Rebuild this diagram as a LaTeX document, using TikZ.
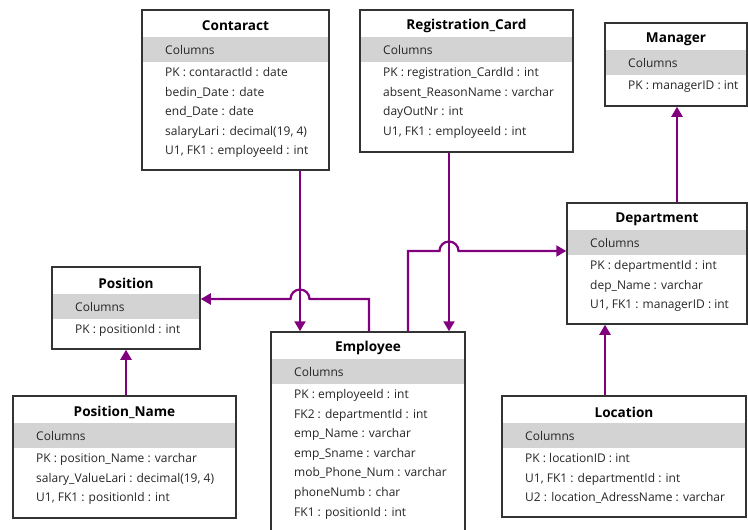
\documentclass[tikz,border=0pt]{standalone}
\usepackage{fontspec}
\setmainfont{Open Sans}
\usetikzlibrary{arrows.meta,fit}
\definecolor{fkc}{HTML}{800080}
\definecolor{bandc}{HTML}{D3D3D3}
\definecolor{txtc}{HTML}{262626}
\tikzset{
  tbl/.style={draw=black!80, line width=1.5pt, inner sep=0pt},
  ttl/.style={font=\fontsize{13.6}{15}\selectfont\bfseries, text=black, inner sep=0pt},
  colh/.style={font=\fontsize{12}{14}\selectfont, text=txtc, anchor=base west, inner sep=0pt},
  rowt/.style={font=\fontsize{12}{14}\selectfont, text=txtc, anchor=base west, inner sep=0pt},
  fk/.style={draw=fkc, line width=2.2pt, -{Triangle[length=10pt,width=11pt]}},
}
% #1 name, #2 left, #3 top, #4 right, #5 bottom, #6 title, #7 rows
\newcommand\dbtable[7]{%
  \fill[white] (#2,#3) rectangle (#4,#5);
  \fill[bandc] (#2,#3+27) rectangle (#4,#3+52);
  \node[tbl, fit={(#2,#3) (#4,#5)}] (#1) {};
  \node[ttl] (#1-title) at ({(#2+#4)/2},#3+16) {#6};
  \node[colh] (#1-cols) at (#2+23,#3+44) {Columns};
  \foreach \r [count=\i from 0] in {#7} {
    \node[rowt] at (#2+23,#3+66.5+19.6*\i) {\r};
  }
}
\begin{document}
\begin{tikzpicture}[x=1pt,y=-1pt]
\useasboundingbox (0,0) rectangle (748,530);
\dbtable{contaract}{142}{10}{329}{170}{Contaract}{{PK : contaractId : date},{bedin\_Date : date},{end\_Date : date},{salaryLari : decimal(19, 4)},{U1, FK1 : employeeId : int}}
\dbtable{regcard}{360}{10}{573}{152}{Registration\_Card}{{PK : registration\_CardId : int},{absent\_ReasonName : varchar},{dayOutNr : int},{U1, FK1 : employeeId : int}}
\dbtable{manager}{605}{23}{747}{106}{Manager}{{PK : managerID : int}}
\dbtable{department}{567}{203}{747}{324}{Department}{{PK : departmentId : int},{dep\_Name : varchar},{U1, FK1 : managerID : int}}
\dbtable{position}{52}{267}{200}{349}{Position}{{PK : positionId : int}}
\dbtable{employee}{271}{332}{465}{545}{Employee}{{PK : employeeId : int},{FK2 : departmentId : int},{emp\_Name : varchar},{emp\_Sname : varchar},{mob\_Phone\_Num : varchar},{phoneNumb : char},{FK1 : positionId : int}}
\dbtable{posname}{13}{396}{236}{518}{Position\_Name}{{PK : position\_Name : varchar},{salary\_ValueLari : decimal(19, 4)},{U1, FK1 : positionId : int}}
\dbtable{location}{502}{396}{746}{517}{Location}{{PK : locationID : int},{U1, FK1 : departmentId : int},{U2 : location\_AdressName : varchar}}

% connectors
\draw[fk] (contaract.south -| 300,0) -- (employee.north -| 300,0);
\draw[fk] (regcard.south -| 449,0) -- (employee.north -| 449,0);
\draw[fk] (employee.north -| 369,0) -- (369,299) -- (309.5,299)
  arc[start angle=0,end angle=180,radius=9.5pt] -- (position.east |- 0,299);
\draw[fk] (employee.north -| 408,0) -- (408,251) -- (439.5,251)
  arc[start angle=180,end angle=0,radius=9.5pt] -- (department.west |- 0,251);
\draw[fk] (location.north -| 605,0) -- (department.south -| 605,0);
\draw[fk] (department.north -| 677,0) -- (manager.south -| 677,0);
\draw[fk] (posname.north -| 126,0) -- (position.south -| 126,0);
\end{tikzpicture}
\end{document}
